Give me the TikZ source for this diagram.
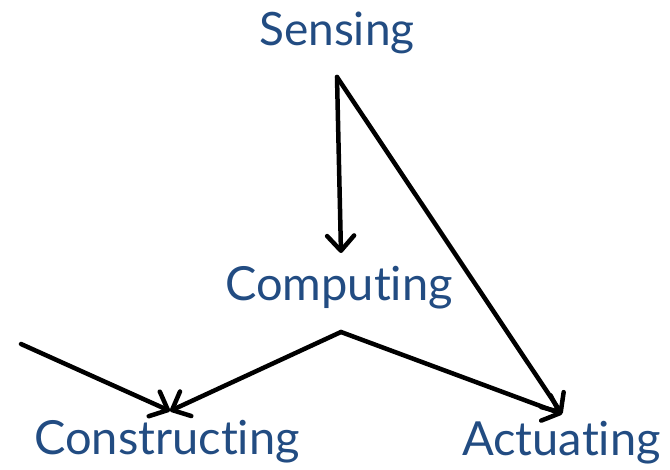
\documentclass[tikz,border=0pt]{standalone}
\usepackage{fontspec}
\setmainfont[Ligatures=NoCommon]{Lato}
\usetikzlibrary{arrows.meta}
\definecolor{txtblue}{RGB}{34,76,130}
\begin{document}
\begin{tikzpicture}[x=1pt,y=-1pt,
  lbl/.style={text=txtblue, inner sep=0pt, anchor=base west},
  conn/.style={line width=4.5pt, line cap=round, line join=round,
    -{Straight Barb[length=15pt,width=27pt,round]}}]
\useasboundingbox (0,0) rectangle (670,470);
\node[lbl, font=\fontsize{46}{52}\selectfont] (sensing) at (259,46) {Sensing};
\node[lbl, font=\fontsize{47}{53}\selectfont] (computing) at (225,301) {Computing};
\node[lbl, font=\fontsize{47}{53}\selectfont] (constructing) at (34,454) {Constructing};
\node[lbl, font=\fontsize{47}{53}\selectfont] (actuating) at (462,456) {Actuating};
\coordinate (top) at (337,77);
\coordinate (mid) at (341,332);
\coordinate (left) at (21,344);
\coordinate (compin) at (341,253);
\coordinate (consin) at (170,411);
\coordinate (actin) at (562,414);
\draw[conn] (top) -- (compin);
\draw[conn] (top) -- (actin);
\draw[conn] (mid) -- (consin);
\draw[conn] (mid) -- (actin);
\draw[conn] (left) -- (consin);
\end{tikzpicture}
\end{document}
